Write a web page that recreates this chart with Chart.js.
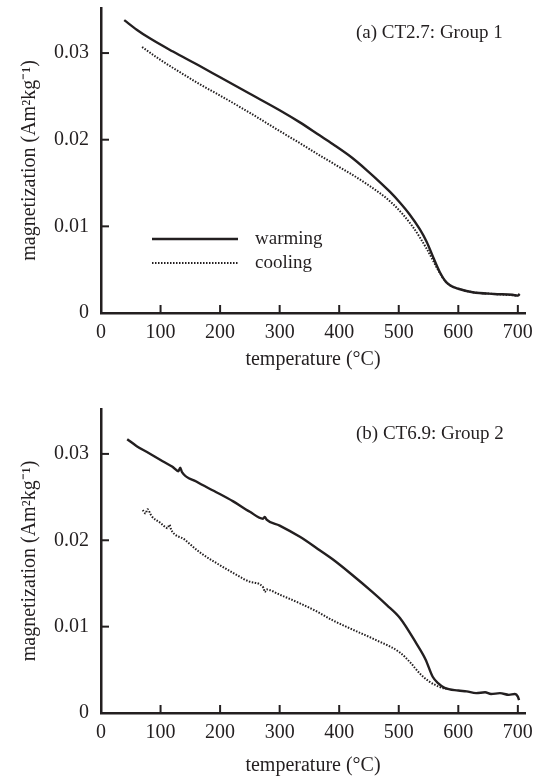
<!DOCTYPE html>
<html>
<head>
<meta charset="utf-8">
<script src="https://cdn.jsdelivr.net/npm/chart.js@4.4.0/dist/chart.umd.min.js"></script>
<style>
  body { margin: 0; background: #fff; }
  .wrap { position: relative; width: 539px; height: 780px; }
  canvas { position: absolute; left: 0; }
</style>
</head>
<body>
<div class="wrap">
  <canvas id="chartA" width="539" height="390" style="top:0"></canvas>
  <canvas id="chartB" width="539" height="390" style="top:390px"></canvas>
</div>
<script>
// (a) CT2.7: Group 1
const aWarmT = [39, 60, 82, 120, 166, 200, 250, 300, 334, 367, 389, 420, 446, 470, 485, 500, 518, 535, 547, 558, 569, 578, 586, 600, 624, 660, 691, 700, 703];
const aWarmM = [0.0338, 0.0327, 0.0317, 0.0302, 0.0285, 0.0272, 0.0253, 0.0234, 0.0220, 0.0205, 0.0195, 0.0180, 0.0165, 0.0150, 0.0140, 0.0129, 0.0114, 0.0097, 0.0082, 0.0064, 0.0047, 0.0037, 0.0032, 0.0028, 0.0024, 0.0022, 0.0021, 0.0020, 0.0022];
const aCoolT = [69, 100, 130, 166, 200, 250, 300, 334, 367, 389, 446, 490, 523, 547, 558, 569, 578, 586, 600, 624, 660, 700];
const aCoolM = [0.0307, 0.0292, 0.0279, 0.0264, 0.0251, 0.0231, 0.0210, 0.0196, 0.0182, 0.0173, 0.0149, 0.0126, 0.0100, 0.0074, 0.0060, 0.0046, 0.0037, 0.0032, 0.0028, 0.0024, 0.0022, 0.0020];

// (b) CT6.9: Group 2
const bWarmT = [44, 60, 80, 100, 120, 130, 133, 136, 160, 190, 222, 250, 272, 275, 278, 300, 334, 364, 389, 420, 456, 480, 502, 530, 545, 557, 567, 577, 600, 614, 630, 645, 655, 670, 685, 695, 700, 702];
const bWarmM = [0.0317, 0.0309, 0.0301, 0.0293, 0.0285, 0.0280, 0.0284, 0.0279, 0.0268, 0.0257, 0.0245, 0.0233, 0.0225, 0.0227, 0.0224, 0.0217, 0.0204, 0.0190, 0.0178, 0.0161, 0.0140, 0.0125, 0.0110, 0.0080, 0.0062, 0.0042, 0.0034, 0.0029, 0.0026, 0.0025, 0.0023, 0.0024, 0.0022, 0.0023, 0.0021, 0.0022, 0.0019, 0.0015];
const bCoolT = [70, 75, 78, 85, 100, 112, 115, 118, 140, 166, 200, 230, 250, 273, 275, 278, 300, 334, 364, 390, 418, 460, 502, 520, 535, 550, 569, 580];
const bCoolM = [0.0235, 0.0231, 0.0236, 0.0228, 0.0220, 0.0214, 0.0218, 0.0212, 0.0201, 0.0186, 0.0171, 0.0159, 0.0152, 0.0145, 0.0140, 0.0143, 0.0137, 0.0127, 0.0117, 0.0107, 0.0098, 0.0085, 0.0070, 0.0058, 0.0046, 0.0037, 0.0030, 0.0028];

const xTicks = [0, 100, 200, 300, 400, 500, 600, 700];
const yTicks = [0, 0.01, 0.02, 0.03];

const ink = '#231f20';
const serif = 'Liberation Serif, Times New Roman, serif';

function pts(xs, ys) {
  return xs.map((x, i) => ({ x: x, y: ys[i] }));
}

// inward tick marks, panel caption and (optionally) the legend
const decor = {
  id: 'decor',
  afterDraw(chart) {
    const { ctx, chartArea: a, scales } = chart;
    const o = chart.options.plugins.decor;
    ctx.save();
    ctx.strokeStyle = ink;
    ctx.lineWidth = 2;
    scales.x.ticks.forEach(t => {
      const px = scales.x.getPixelForValue(t.value);
      ctx.beginPath();
      ctx.moveTo(px, a.bottom);
      ctx.lineTo(px, a.bottom - 8);
      ctx.stroke();
    });
    scales.y.ticks.forEach(t => {
      const py = scales.y.getPixelForValue(t.value);
      ctx.beginPath();
      ctx.moveTo(a.left, py);
      ctx.lineTo(a.left + 8, py);
      ctx.stroke();
    });
    ctx.fillStyle = ink;
    ctx.font = '19px ' + serif;
    ctx.textBaseline = 'middle';
    ctx.textAlign = 'left';
    ctx.fillText(o.caption, a.left + 255, a.top + 25);
    if (o.legend) {
      const ds = chart.data.datasets;
      [0, 1].forEach(i => {
        const y = a.bottom - 74 + i * 24;
        ctx.beginPath();
        ctx.lineWidth = ds[i].borderWidth;
        ctx.setLineDash(ds[i].borderDash || []);
        ctx.moveTo(a.left + 51, y);
        ctx.lineTo(a.left + 137, y);
        ctx.stroke();
        ctx.setLineDash([]);
        ctx.fillText(ds[i].label, a.left + 154, y);
      });
    }
    ctx.restore();
  }
};

function makeChart(id, warm, cool, caption, showLegend, pad, xHeight) {
  return new Chart(document.getElementById(id), {
    type: 'line',
    data: {
      datasets: [
        { label: 'warming', data: warm, borderColor: ink, borderWidth: 2.4, pointRadius: 0, cubicInterpolationMode: 'monotone' },
        { label: 'cooling', data: cool, borderColor: ink, borderWidth: 2, borderDash: [1.5, 1.5], pointRadius: 0, cubicInterpolationMode: 'monotone' }
      ]
    },
    options: {
      responsive: false,
      animation: false,
      layout: { padding: pad },
      plugins: {
        legend: { display: false },
        tooltip: { enabled: false },
        decor: { caption: caption, legend: showLegend }
      },
      scales: {
        x: {
          type: 'linear',
          min: 0,
          max: 712,
          afterBuildTicks: s => { s.ticks = xTicks.map(v => ({ value: v })); },
          afterFit: s => { s.height = xHeight; s.paddingLeft = 0; s.paddingRight = 0; },
          grid: { display: false, drawTicks: false },
          border: { display: true, color: ink, width: 2.5 },
          ticks: { color: ink, padding: 8, maxRotation: 0, font: { family: serif, size: 20 } },
          title: { display: true, text: 'temperature (°C)', color: ink, padding: 0, font: { family: serif, size: 20 } }
        },
        y: {
          min: 0,
          max: 0.0352,
          afterBuildTicks: s => { s.ticks = yTicks.map(v => ({ value: v })); },
          afterFit: s => { s.width = 101; s.paddingTop = 0; s.paddingBottom = 0; },
          grid: { display: false, drawTicks: false },
          border: { display: true, color: ink, width: 2.5 },
          ticks: {
            color: ink, padding: 12, font: { family: serif, size: 20 },
            callback: v => v === 0 ? '0' : v.toFixed(2)
          },
          title: { display: true, text: 'magnetization (Am²kg⁻¹)', color: ink, padding: { top: 18, bottom: 0 }, font: { family: serif, size: 20 } }
        }
      }
    },
    plugins: [decor]
  });
}

makeChart('chartA', pts(aWarmT, aWarmM), pts(aCoolT, aCoolM), '(a) CT2.7: Group 1', true,
  { top: 8, right: 14, bottom: 18, left: 0 }, 59);
makeChart('chartB', pts(bWarmT, bWarmM), pts(bCoolT, bCoolM), '(b) CT6.9: Group 2', false,
  { top: 19, right: 14, bottom: 2, left: 0 }, 65);
</script>
</body>
</html>
